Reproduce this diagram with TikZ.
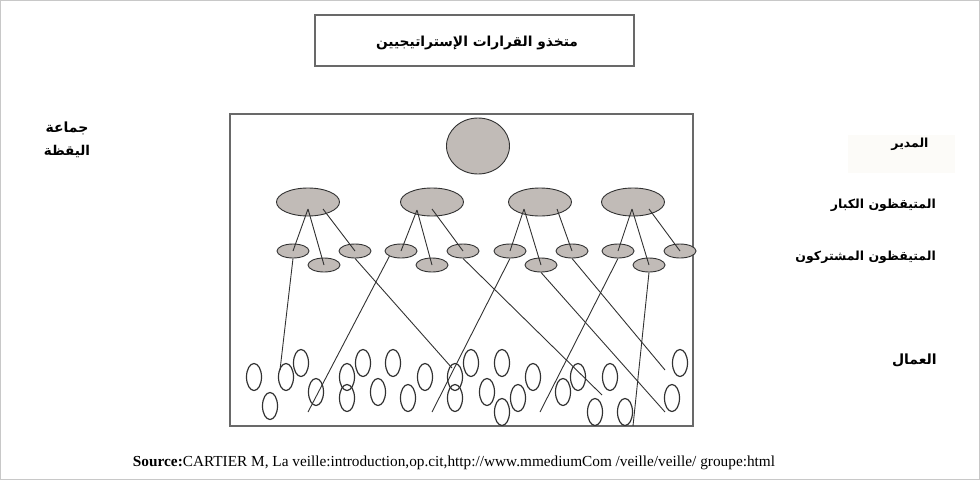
\documentclass[tikz,border=0pt]{standalone}
\usepackage{fontspec}
\setmainfont{Liberation Serif}
\newfontfamily\arabicfont[Script=Arabic]{DejaVu Sans}
\TeXXeTstate=1
\usetikzlibrary{shapes.geometric}
\definecolor{ovalfill}{RGB}{193,187,183}
\definecolor{inkgray}{RGB}{50,50,50}
\definecolor{framegray}{RGB}{105,105,105}
\definecolor{pagegray}{RGB}{200,200,200}
\definecolor{labelbg}{RGB}{252,251,248}
\tikzset{
  boxframe/.style={draw=framegray, line width=1.2pt},
  member/.style={ellipse, draw=inkgray, fill=ovalfill, line width=0.9pt, inner sep=0pt},
  director/.style={member, minimum width=63pt, minimum height=56pt},
  senior/.style={member, minimum width=63pt, minimum height=28pt},
  partner/.style={member, minimum width=32pt, minimum height=14pt},
  worker/.style={ellipse, draw=inkgray, line width=1.2pt, inner sep=0pt,
                 minimum width=15pt, minimum height=27pt},
  link/.style={draw=inkgray, line width=0.9pt},
  arlabel/.style={font=\arabicfont\bfseries\fontsize{12.5}{14}\selectfont, inner sep=0pt},
}
\begin{document}
\begin{tikzpicture}[x=1pt,y=-1pt]
\useasboundingbox (0,0) rectangle (980,480);
\draw[pagegray, line width=0.8pt] (0.5,0.5) rectangle (979.5,479.5);

% title box
\node[boxframe, minimum width=319pt, minimum height=51pt, inner sep=0pt] (title) at (474.5,40.5) {};
\node[arlabel, font=\arabicfont\bfseries\fontsize{13.8}{15}\selectfont] (titletext) at (477,43) {\beginR متخذو القرارات الإستراتيجيين\endR};

% main frame
\node[boxframe, minimum width=463pt, minimum height=312pt, inner sep=0pt] (frame) at (461.5,270) {};

% side labels
\node[arlabel, font=\arabicfont\bfseries\fontsize{14}{16}\selectfont] (grp1) at (67,128) {\beginR جماعة\endR};
\node[arlabel, font=\arabicfont\bfseries\fontsize{13.5}{16}\selectfont] (grp2) at (67,151) {\beginR اليقظة\endR};
\node[fill=labelbg, minimum width=107pt, minimum height=38pt, inner sep=0pt] (dirbg) at (901.5,154) {};
\node[arlabel] (lbl1) at (910,144) {\beginR المدير\endR};
\node[arlabel, anchor=east] (lbl2) at (936,205) {\beginR المتيقظون الكبار\endR};
\node[arlabel, anchor=east] (lbl3) at (936,257) {\beginR المتيقظون المشتركون\endR};
\node[arlabel, font=\arabicfont\bfseries\fontsize{14}{16}\selectfont, anchor=east] (lbl4) at (937,360) {\beginR العمال\endR};

% director
\node[director] (dir) at (478,146) {};

% senior watchers
\node[senior] (b1) at (308,202) {};
\node[senior] (b2) at (432,202) {};
\node[senior] (b3) at (540,202) {};
\node[senior] (b4) at (633,202) {};

% partner watchers, upper row
\node[partner] (s1) at (293,251) {};
\node[partner] (s2) at (355,251) {};
\node[partner] (s3) at (401,251) {};
\node[partner] (s4) at (463,251) {};
\node[partner] (s5) at (510,251) {};
\node[partner] (s6) at (572,251) {};
\node[partner] (s7) at (618,251) {};
\node[partner] (s8) at (680,251) {};
% partner watchers, lower row
\node[partner] (t1) at (324,265) {};
\node[partner] (t2) at (432,265) {};
\node[partner] (t3) at (541,265) {};
\node[partner] (t4) at (649,265) {};

% workers
\foreach [count=\i] \px/\py in {
  301/363, 363/363, 393/363, 471/363, 502/363, 680/363,
  254/377, 286/377, 347/377, 425/377, 455/377, 533/377, 578/377, 610/377,
  316/392, 378/392, 487/392, 563/392,
  347/398, 408/398, 455/398, 518/398, 672/398,
  270/406, 502/412, 595/412, 625/412}
  \node[worker] (w\i) at (\px,\py) {};

% start points inside the senior ovals
\coordinate (b1l) at (308,209); \coordinate (b1r) at (323,209);
\coordinate (b2l) at (417,210); \coordinate (b2r) at (432,209);
\coordinate (b3l) at (524,209); \coordinate (b3r) at (557,209);
\coordinate (b4l) at (632,209); \coordinate (b4r) at (649,209);

% senior -> partner links
\draw[link] (b1l) -- (s1.center) (b1l) -- (t1.center) (b1r) -- (s2.center);
\draw[link] (b2l) -- (s3.center) (b2l) -- (t2.center) (b2r) -- (s4.center);
\draw[link] (b3l) -- (s5.center) (b3l) -- (t3.center) (b3r) -- (s6.center);
\draw[link] (b4l) -- (s7.center) (b4l) -- (t4.center) (b4r) -- (s8.center);

% partner -> worker links
\coordinate (e1) at (280,370);
\coordinate (e2) at (308,412);
\coordinate (e3) at (452,368);
\coordinate (e4) at (432,412);
\coordinate (e5) at (602,395);
\coordinate (e6) at (665,412);
\coordinate (e7) at (665,370);
\coordinate (e8) at (540,412);
\coordinate (e9) at (633,426);
\draw[link] (s1.south) -- (e1);
\draw[link] (s3.south west) -- (e2);
\draw[link] (s2.south) -- (e3);
\draw[link] (s5.south) -- (e4);
\draw[link] (s4.south) -- (e5);
\draw[link] (t3.south) -- (e6);
\draw[link] (s6.south) -- (e7);
\draw[link] (s7.south) -- (e8);
\draw[link] (t4.south) -- (e9);

% source line
\node[font=\fontsize{15.3}{17}\selectfont, inner sep=0pt] (src) at (454,463)
  {\textbf{Source:}CARTIER M, La veille:introduction,op.cit,http://www.mmediumCom /veille/veille/ groupe:html};
\end{tikzpicture}
\end{document}
